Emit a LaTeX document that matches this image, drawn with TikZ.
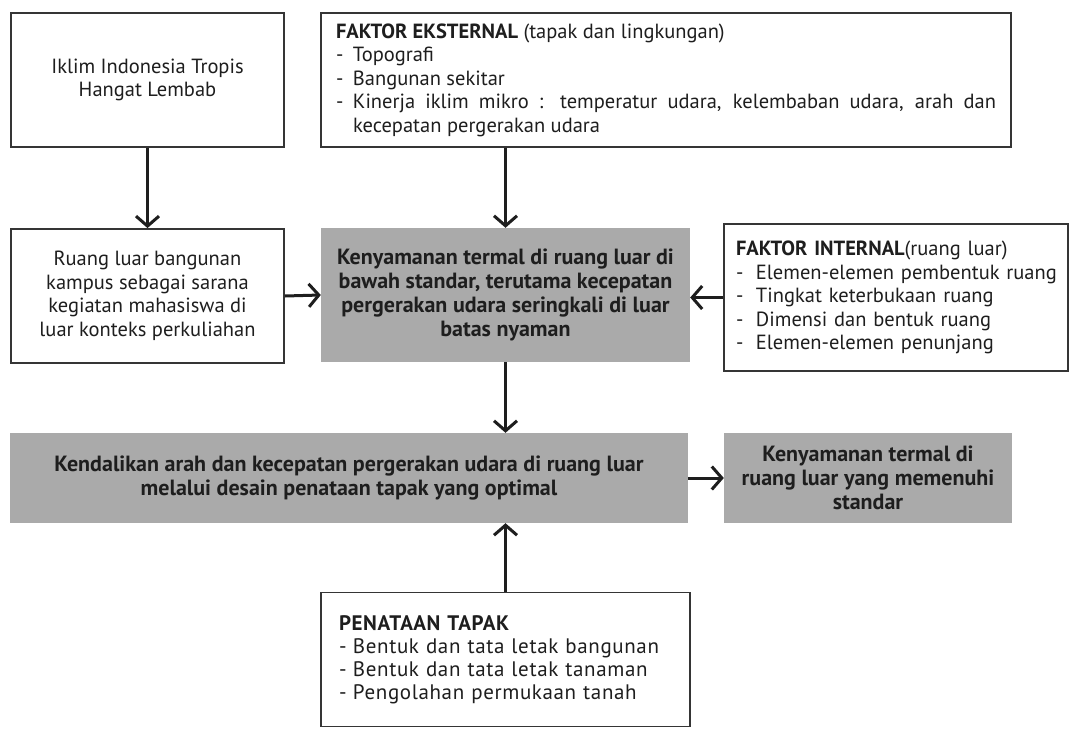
\documentclass[tikz,border=0pt]{standalone}
\usepackage{fontspec}
\setmainfont{PT Sans}
\usetikzlibrary{arrows.meta}
\definecolor{boxgray}{RGB}{170,170,170}
\definecolor{ink}{RGB}{30,30,30}
\setlength{\parindent}{0pt}
\begin{document}
\begin{tikzpicture}[x=1pt,y=-1pt,
  txt/.style={font=\fontsize{20.5}{23.5}\selectfont, text=ink},
  wbox/.style={txt, draw=ink!90, line width=1.8pt, fill=white, inner sep=0pt},
  gbox/.style={txt, fill=boxgray, inner sep=0pt, font=\fontsize{22}{24}\selectfont\bfseries},
  arr/.style={line width=3pt, draw=ink, -{Straight Barb[length=10pt,width=23pt]}}
]
\useasboundingbox (0,0) rectangle (1070,728);

\node[wbox, minimum width=273pt, minimum height=134pt, align=center] (iklim) at (147.5,80)
  {Iklim Indonesia Tropis\\Hangat Lembab};

\node[wbox, minimum width=690pt, minimum height=134pt, text width=660pt, align=justify] (ekst) at (666,80)
  {\textbf{FAKTOR EKSTERNAL} (tapak dan lingkungan)\par
   \makebox[17pt][l]{-}Topografi\par
   \makebox[17pt][l]{-}Bangunan sekitar\par
   \hangindent=17pt\hangafter=1 \makebox[17pt][l]{-}Kinerja iklim mikro : temperatur udara, kelembaban udara, arah dan\linebreak kecepatan pergerakan udara\par};

\node[wbox, minimum width=273pt, minimum height=134pt, align=center] (ruang) at (147.5,296)
  {Ruang luar bangunan\\kampus sebagai sarana\\kegiatan mahasiswa di\\luar konteks perkuliahan};

\node[gbox, minimum width=369pt, minimum height=134pt, align=center] (pusat) at (505.5,295)
  {Kenyamanan termal di ruang luar di\\bawah standar, terutama kecepatan\\pergerakan udara seringkali di luar\\batas nyaman};

\node[wbox, minimum width=344pt, minimum height=147pt, text width=320pt, align=left] (internal) at (896,297.5)
  {\mbox{\textbf{FAKTOR INTERNAL}(ruang luar)}\\
   \mbox{\makebox[20pt][l]{-}Elemen-elemen pembentuk ruang}\\
   \mbox{\makebox[20pt][l]{-}Tingkat keterbukaan ruang}\\
   \mbox{\makebox[20pt][l]{-}Dimensi dan bentuk ruang}\\
   \mbox{\makebox[20pt][l]{-}Elemen-elemen penunjang}};

\node[gbox, minimum width=678pt, minimum height=90pt, align=center] (kendali) at (349,478)
  {Kendalikan arah dan kecepatan pergerakan udara di ruang luar\\melalui desain penataan tapak yang optimal};

\node[gbox, minimum width=288pt, minimum height=90pt, align=center] (standar) at (868,478)
  {Kenyamanan termal di\\ruang luar yang memenuhi\\standar};

\node[wbox, minimum width=369pt, minimum height=134pt, text width=333pt, align=left,
      font=\fontsize{21}{23}\selectfont\addfontfeature{LetterSpace=3}] (tapak) at (505.5,659.5)
  {\mbox{\textbf{PENATAAN TAPAK}}\\
   \mbox{\makebox[14pt][l]{-}Bentuk dan tata letak bangunan}\\
   \mbox{\makebox[14pt][l]{-}Bentuk dan tata letak tanaman}\\
   \mbox{\makebox[14pt][l]{-}Pengolahan permukaan tanah}};

\draw[arr] (iklim.south) -- (ruang.north);
\draw[arr] (ekst.south -| pusat.north) -- (pusat.north);
\draw[arr] (ruang.east) -- (pusat.west);
\draw[arr] (internal.west) -- (internal.west -| pusat.east);
\draw[arr] (pusat.south) -- (pusat.south |- kendali.north);
\draw[arr] (tapak.north) -- (tapak.north |- kendali.south);
\draw[arr] (kendali.east) -- (standar.west);
\end{tikzpicture}
\end{document}
